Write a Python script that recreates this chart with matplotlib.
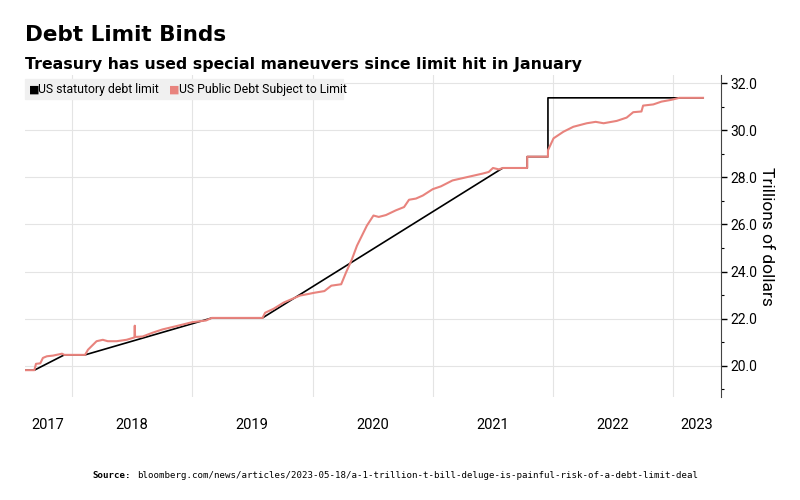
import pandas as pd
import matplotlib.pyplot as plt

# statutory debt limit (trillions)
limit_dates = ['2017-08-10', '2017-09-08', '2017-12-08', '2018-02-09', '2019-03-02',
               '2019-08-02', '2021-08-01', '2021-10-14', '2021-10-14', '2021-12-16',
               '2021-12-16', '2023-04-01']
limit_vals = [19.81, 19.81, 20.46, 20.46, 22.03, 22.03, 28.40, 28.40, 28.88, 28.88,
              31.38, 31.38]

# public debt subject to limit (trillions)
debt_dates = ['2017-08-10', '2017-09-08', '2017-09-13', '2017-09-26', '2017-10-04',
              '2017-10-16', '2017-11-04', '2017-12-01', '2017-12-08', '2018-02-09',
              '2018-02-18', '2018-03-16', '2018-04-04', '2018-04-19', '2018-05-16',
              '2018-06-15', '2018-07-09', '2018-07-10', '2018-07-11', '2018-08-03',
              '2018-09-02', '2018-10-02', '2018-11-13', '2019-01-01', '2019-02-11',
              '2019-03-01', '2019-08-02', '2019-08-10', '2019-09-05', '2019-10-05',
              '2019-10-25', '2019-11-24', '2019-12-13', '2020-01-07', '2020-02-06',
              '2020-02-27', '2020-03-28', '2020-04-12', '2020-04-29', '2020-05-15',
              '2020-06-14', '2020-07-04', '2020-07-20', '2020-08-11', '2020-09-10',
              '2020-10-05', '2020-10-20', '2020-11-10', '2020-12-01', '2020-12-31',
              '2021-01-25', '2021-03-01', '2021-04-20', '2021-05-31', '2021-06-19',
              '2021-07-02', '2021-07-20', '2021-08-01', '2021-10-14', '2021-10-14',
              '2021-12-16', '2021-12-16', '2022-01-02', '2022-02-01', '2022-03-03',
              '2022-04-13', '2022-05-10', '2022-06-03', '2022-07-13', '2022-08-12',
              '2022-09-01', '2022-09-26', '2022-10-01', '2022-11-01', '2022-11-26',
              '2022-12-20', '2022-12-27', '2023-01-19', '2023-04-01']
debt_vals = [19.81, 19.81, 20.08, 20.10, 20.33, 20.40, 20.43, 20.51, 20.46, 20.46,
             20.68, 21.04, 21.10, 21.04, 21.04, 21.10, 21.20, 21.70, 21.22, 21.24,
             21.40, 21.54, 21.68, 21.85, 21.92, 22.03, 22.03, 22.25, 22.42, 22.68,
             22.80, 22.98, 23.03, 23.10, 23.17, 23.40, 23.46, 23.97, 24.50, 25.10,
             25.95, 26.38, 26.32, 26.40, 26.60, 26.74, 27.05, 27.10, 27.23, 27.50,
             27.62, 27.87, 28.03, 28.16, 28.23, 28.40, 28.34, 28.40, 28.40, 28.88,
             28.88, 29.15, 29.66, 29.94, 30.15, 30.30, 30.36, 30.30, 30.40, 30.54,
             30.77, 30.80, 31.05, 31.10, 31.22, 31.28, 31.30, 31.38, 31.38]

years = ['2017', '2018', '2019', '2020', '2021', '2022', '2023']
year_label_dates = ['2017-10-20', '2018-07-02', '2019-07-02', '2020-07-02',
                    '2021-07-02', '2022-07-02', '2023-03-14']
year_starts = ['2018-01-01', '2019-01-01', '2020-01-01', '2021-01-01',
               '2022-01-01', '2023-01-01']
y_major = [20, 22, 24, 26, 28, 30, 32]
y_minor = [19, 21, 23, 25, 27, 29, 31]

red = '#e8837d'
small = 'Roboto'

fig = plt.figure(figsize=(8, 5), dpi=100)
ax = fig.add_axes([0.031, 0.206, 0.870, 0.644])

ax.plot(pd.to_datetime(limit_dates), limit_vals, color='black', lw=1.2, zorder=3)
ax.plot(pd.to_datetime(debt_dates), debt_vals, color=red, lw=1.5, zorder=4)

ax.set_xlim(pd.Timestamp('2017-08-10'), pd.Timestamp('2023-05-25'))
ax.set_ylim(18.67, 32.35)

ax.set_xticks(pd.to_datetime(year_starts))
ax.set_xticklabels([])
ax.set_xticks(pd.to_datetime(year_label_dates), minor=True)
ax.set_xticklabels(years, minor=True, fontfamily=small, fontsize=10.5)
ax.tick_params(axis='x', which='both', length=0, pad=15)
ax.grid(axis='x', which='major', color='#e4e4e4', lw=0.8)

ax.yaxis.tick_right()
ax.yaxis.set_label_position('right')
ax.set_yticks(y_major)
ax.set_yticklabels([f'{v:.1f}' for v in y_major], fontfamily=small, fontsize=10)
ax.set_yticks(y_minor, minor=True)
ax.tick_params(axis='y', which='major', length=4, width=1, pad=3)
ax.tick_params(axis='y', which='minor', length=2.5, width=0.8)
ax.grid(axis='y', which='major', color='#e4e4e4', lw=0.8)
ax.set_ylabel('Trillions of dollars', rotation=-90, labelpad=12,
              fontfamily=small, fontsize=12.5)

for s in ['top', 'left', 'bottom']:
    ax.spines[s].set_visible(False)
ax.spines['right'].set_color('#444444')

# legend strip
fig.patches.append(plt.Rectangle((0.031, 0.802), 0.398, 0.040, transform=fig.transFigure,
                                 color='#f0f0f0', zorder=5))
fig.text(0.036, 0.821, '\u25a0', color='black', fontsize=8, va='center', zorder=6)
fig.text(0.048, 0.821, 'US statutory debt limit', fontfamily=small, fontsize=8.8,
         va='center', zorder=6)
fig.text(0.211, 0.821, '\u25a0', color=red, fontsize=8, va='center', zorder=6)
fig.text(0.224, 0.821, 'US Public Debt Subject to Limit', fontfamily=small, fontsize=8.8,
         va='center', zorder=6)

fig.text(0.031, 0.918, 'Debt Limit Binds', fontsize=15.5, fontweight='bold')
fig.text(0.031, 0.862, 'Treasury has used special maneuvers since limit hit in January',
         fontsize=11.35, fontweight='bold')

fig.text(0.116, 0.045, 'Source:', family='DejaVu Sans Mono', fontweight='bold', fontsize=6.6)
fig.text(0.171, 0.045,
         'bloomberg.com/news/articles/2023-05-18/a-1-trillion-t-bill-deluge-is-painful-risk-of-a-debt-limit-deal',
         family='DejaVu Sans Mono', fontsize=6.6)

fig.savefig('out.png', dpi=100)
